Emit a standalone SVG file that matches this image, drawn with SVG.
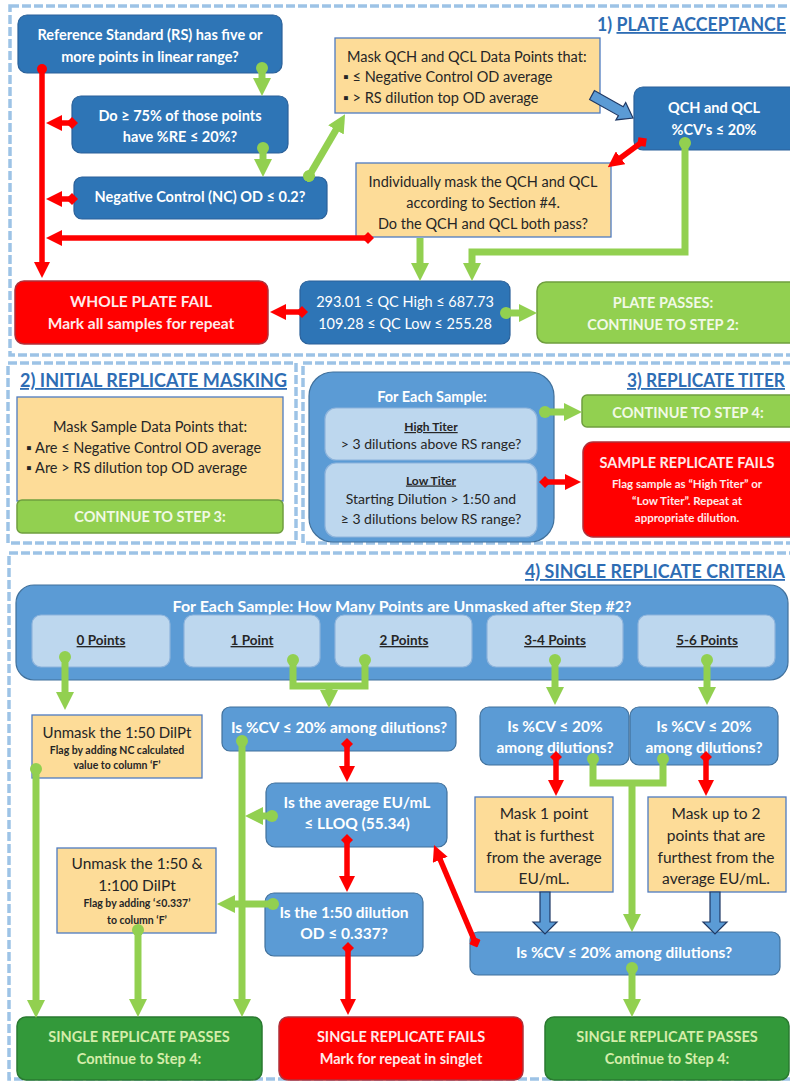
<svg xmlns="http://www.w3.org/2000/svg" width="790" height="1082" viewBox="0 0 790 1082">
<style>
text{font-family:Lato,"Liberation Sans",sans-serif}
.dash{fill:none;stroke:#9dc3e6;stroke-width:3.5;stroke-dasharray:9 3}
.db{fill:#2e75b6;stroke:#2a6099;stroke-width:1.2}
.mb{fill:#5b9bd5;stroke:#41719c;stroke-width:1.2}
.lb{fill:#bdd7ee;stroke:#8eb4dc;stroke-width:1.2}
.tan{fill:#fddc98;stroke:#4f7bc0;stroke-width:1.3}
.red{fill:#ff0000;stroke:#b0303a;stroke-width:1.5}
.lg{fill:#92d050;stroke:#6f9e3e;stroke-width:1.5}
.dg{fill:#33993a;stroke:#2a7a30;stroke-width:1.5}
.bl{fill:#5b9bd5;stroke:#1f3864;stroke-width:1.2}
.w{fill:#ffffff;font-weight:bold;font-size:14.5px;text-anchor:middle}
.k{fill:#262626;font-size:14.5px}
.kc{fill:#262626;font-size:14.5px;text-anchor:middle}
.ks{fill:#262626;font-size:10.5px;font-weight:bold;text-anchor:middle}
.rt{fill:#ffeaea;font-weight:bold;font-size:14.5px;text-anchor:middle}
.rs{fill:#ffeaea;font-weight:bold;font-size:11.5px;text-anchor:middle}
.gt{fill:#f1f9e6;font-weight:bold;font-size:14.5px;text-anchor:middle}
.dgt{fill:#d5edaa;font-weight:bold;font-size:14.5px;text-anchor:middle}
.pt{fill:#262626;font-weight:bold;font-size:13.5px;text-anchor:middle;text-decoration:underline}
.ttl{fill:#2e6db4;font-weight:bold;font-size:18px}
.g{fill:none;stroke:#92d050;stroke-width:7}
.r{fill:none;stroke:#ff0000;stroke-width:5.5}
</style>
<defs>
<marker id="gh" viewBox="0 0 18 18" refX="8" refY="9" markerWidth="18" markerHeight="18" markerUnits="userSpaceOnUse" orient="auto"><path d="M0,0 L18,9 L0,18 z" fill="#92d050"/></marker>
<marker id="gd" viewBox="0 0 12 12" refX="6" refY="6" markerWidth="12" markerHeight="12" markerUnits="userSpaceOnUse" orient="auto"><circle cx="6" cy="6" r="6" fill="#92d050"/></marker>
<marker id="rh" viewBox="0 0 16 16" refX="7" refY="8" markerWidth="16" markerHeight="16" markerUnits="userSpaceOnUse" orient="auto"><path d="M0,0 L16,8 L0,16 z" fill="#ff0000"/></marker>
<marker id="rd" viewBox="0 0 12 12" refX="6" refY="6" markerWidth="12" markerHeight="12" markerUnits="userSpaceOnUse" orient="auto"><path d="M0,6 L6,0 L12,6 L6,12 z" fill="#ff0000"/></marker>
<marker id="ro" viewBox="0 0 10 10" refX="5" refY="5" markerWidth="10" markerHeight="10" markerUnits="userSpaceOnUse" orient="auto"><circle cx="5" cy="5" r="5" fill="#ff0000"/></marker>
</defs>

<g id="section-borders">
<rect class="dash" x="10" y="6" width="800" height="349"/>
<rect class="dash" x="8" y="363" width="288" height="180"/>
<rect class="dash" x="303" y="363" width="510" height="180"/>
<rect class="dash" x="9" y="553" width="800" height="526"/>
</g>

<g id="titles">
<text class="ttl" x="597" y="31" textLength="189" lengthAdjust="spacingAndGlyphs">1) <tspan text-decoration="underline">PLATE ACCEPTANCE</tspan></text>
<text class="ttl" x="20" y="387" textLength="267" lengthAdjust="spacingAndGlyphs" text-decoration="underline">2) INITIAL REPLICATE MASKING</text>
<text class="ttl" x="627" y="387" textLength="158" lengthAdjust="spacingAndGlyphs" text-decoration="underline">3) REPLICATE TITER</text>
<text class="ttl" x="525" y="578" textLength="260" lengthAdjust="spacingAndGlyphs" text-decoration="underline">4) SINGLE REPLICATE CRITERIA</text>
</g>

<!-- Section 1 nodes -->
<g id="n-rs"><rect class="db" x="18" y="15" width="264" height="58" rx="9"/>
<text class="w" x="150" y="40">Reference Standard (RS) has five or</text><text class="w" x="150" y="61.5">more points in linear range?</text></g>
<g id="n-re"><rect class="db" x="72" y="96" width="216" height="57" rx="9"/>
<text class="w" x="180" y="121">Do ≥ 75% of those points</text><text class="w" x="180" y="142">have %RE ≤ 20%?</text></g>
<g id="n-nc"><rect class="db" x="74" y="177" width="253" height="42" rx="8"/>
<text class="w" x="200" y="202">Negative Control (NC) OD ≤ 0.2?</text></g>
<g id="n-maskqc"><rect class="tan" x="335" y="38" width="265" height="75"/>
<text class="k" x="347" y="61.5">Mask QCH and QCL Data Points that:</text>
<text class="k" x="343" y="82">▪ ≤ Negative Control OD average</text>
<text class="k" x="343" y="103">▪ &gt; RS dilution top OD average</text></g>
<g id="n-qccv"><rect class="db" x="634" y="87" width="170" height="63" rx="9"/>
<text class="w" x="714" y="113">QCH and QCL</text><text class="w" x="714" y="135">%CV's ≤ 20%</text></g>
<g id="n-indiv"><rect class="tan" x="356" y="163" width="255" height="74"/>
<text class="kc" x="483" y="187">Individually mask the QCH and QCL</text>
<text class="kc" x="483" y="207.5">according to Section #4.</text>
<text class="kc" x="483" y="228.5">Do the QCH and QCL both pass?</text></g>
<g id="n-wpf"><rect class="red" x="15" y="281" width="253" height="63" rx="9"/>
<text class="rt" x="141" y="307" style="font-size:15.5px">WHOLE PLATE FAIL</text><text class="rt" x="141" y="328.5" style="font-size:15.5px">Mark all samples for repeat</text></g>
<g id="n-qcr"><rect class="db" x="300" y="281" width="210" height="63" rx="9"/>
<text class="w" x="405" y="307" style="font-weight:normal;font-size:14.5px">293.01 ≤ QC High ≤ 687.73</text>
<text class="w" x="405" y="328.5" style="font-weight:normal;font-size:14.5px">109.28 ≤ QC Low ≤ 255.28</text></g>
<g id="n-pp"><rect class="lg" x="537" y="282" width="270" height="61" rx="9"/>
<text class="gt" x="663" y="308">PLATE PASSES:</text><text class="gt" x="663" y="330">CONTINUE TO STEP 2:</text></g>

<!-- Section 2 -->
<g id="n-masksample"><rect class="tan" x="17" y="397" width="266" height="104"/>
<text class="kc" x="150" y="432">Mask Sample Data Points that:</text>
<text class="k" x="26" y="453">▪ Are ≤ Negative Control OD average</text>
<text class="k" x="26" y="473">▪ Are &gt; RS dilution top OD average</text></g>
<g id="n-cont3"><rect class="lg" x="17" y="500" width="266" height="33" rx="5"/>
<text class="gt" x="150" y="522">CONTINUE TO STEP 3:</text></g>

<!-- Section 3 -->
<g id="n-foreach"><rect class="mb" x="309" y="372" width="245" height="170" rx="24"/>
<text class="w" x="432" y="402">For Each Sample:</text></g>
<g id="n-high"><rect class="lb" x="325" y="408" width="212" height="52" rx="11"/>
<text class="pt" x="431" y="431" style="font-size:12px">High Titer</text>
<text class="kc" x="431" y="449" style="font-size:14px">&gt; 3 dilutions above RS range?</text></g>
<g id="n-low"><rect class="lb" x="325" y="463" width="212" height="74" rx="11"/>
<text class="pt" x="431" y="484.5" style="font-size:12px">Low Titer</text>
<text class="kc" x="431" y="503.5" style="font-size:14px">Starting Dilution &gt; 1:50 and</text>
<text class="kc" x="431" y="523.5" style="font-size:14px">≥ 3 dilutions below RS range?</text></g>
<g id="n-cont4"><rect class="lg" x="582" y="395" width="225" height="32" rx="5"/>
<text class="gt" x="688" y="417.5">CONTINUE TO STEP 4:</text></g>
<g id="n-srf3"><rect class="red" x="583" y="442" width="225" height="95" rx="10"/>
<text class="rt" x="687" y="468">SAMPLE REPLICATE FAILS</text>
<text class="rs" x="687" y="488">Flag sample as “High Titer” or</text>
<text class="rs" x="687" y="505">“Low Titer”.  Repeat at</text>
<text class="rs" x="687" y="522">appropriate dilution.</text></g>

<!-- Section 4 -->
<g id="n-points"><rect class="mb" x="16" y="585" width="772" height="95" rx="18"/>
<text class="w" x="402" y="612" style="font-size:16px">For Each Sample: How Many Points are Unmasked after Step #2?</text></g>
<g id="n-p0"><rect class="lb" x="32" y="615" width="138" height="52" rx="9"/><text class="pt" x="101" y="645">0 Points</text></g>
<g id="n-p1"><rect class="lb" x="184" y="615" width="136" height="52" rx="9"/><text class="pt" x="252" y="645">1 Point</text></g>
<g id="n-p2"><rect class="lb" x="335" y="615" width="137" height="52" rx="9"/><text class="pt" x="404" y="645">2 Points</text></g>
<g id="n-p34"><rect class="lb" x="487" y="615" width="136" height="52" rx="9"/><text class="pt" x="555" y="645">3-4 Points</text></g>
<g id="n-p56"><rect class="lb" x="638" y="615" width="137" height="52" rx="9"/><text class="pt" x="707" y="645">5-6 Points</text></g>

<g id="n-unmask50"><rect class="tan" x="32" y="715" width="170" height="63"/>
<text class="kc" x="117" y="737.5" style="font-size:15px">Unmask the 1:50 DilPt</text>
<text class="ks" x="117" y="754">Flag by adding NC calculated</text>
<text class="ks" x="117" y="769">value to column ‘F’</text></g>
<g id="n-cv12"><rect class="mb" x="222" y="707" width="234" height="44" rx="8"/>
<text class="w" x="339" y="732.5" style="font-size:15.5px">Is %CV ≤ 20% among dilutions?</text></g>
<g id="n-avg"><rect class="mb" x="266" y="783" width="181" height="64" rx="9"/>
<text class="w" x="357" y="808" style="font-size:15.5px">Is the average EU/mL</text><text class="w" x="357" y="828.5" style="font-size:15.5px">≤ LLOQ (55.34)</text></g>
<g id="n-unmask100"><rect class="tan" x="57" y="848" width="159" height="85"/>
<text class="kc" x="137" y="868.5" style="font-size:15.5px">Unmask the 1:50 &amp;</text>
<text class="kc" x="137" y="890.5" style="font-size:15.5px">1:100 DilPt</text>
<text class="ks" x="137" y="907">Flag by adding ‘≤0.337’</text>
<text class="ks" x="137" y="924">to column ‘F’</text></g>
<g id="n-od"><rect class="mb" x="265" y="893" width="158" height="63" rx="9"/>
<text class="w" x="344" y="918" style="font-size:15.5px">Is the 1:50 dilution</text><text class="w" x="344" y="938.5" style="font-size:15.5px">OD ≤ 0.337?</text></g>
<g id="n-cv34"><rect class="mb" x="480" y="707" width="149" height="58" rx="9"/>
<text class="w" x="555" y="732" style="font-size:15.5px">Is %CV ≤ 20%</text><text class="w" x="555" y="753" style="font-size:15.5px">among dilutions?</text></g>
<g id="n-cv56"><rect class="mb" x="630" y="707" width="148" height="58" rx="9"/>
<text class="w" x="704" y="732" style="font-size:15.5px">Is %CV ≤ 20%</text><text class="w" x="704" y="753" style="font-size:15.5px">among dilutions?</text></g>
<g id="n-mask1"><rect class="tan" x="475" y="797" width="138" height="95"/>
<text class="kc" x="544" y="818.5" style="font-size:15.5px">Mask 1 point</text>
<text class="kc" x="544" y="840.5" style="font-size:15.5px">that is furthest</text>
<text class="kc" x="544" y="862.5" style="font-size:15.5px">from the average</text>
<text class="kc" x="544" y="883.5" style="font-size:15.5px">EU/mL.</text></g>
<g id="n-mask2"><rect class="tan" x="648" y="797" width="138" height="95"/>
<text class="kc" x="716" y="818.5" style="font-size:15.5px">Mask up to 2</text>
<text class="kc" x="716" y="840.5" style="font-size:15.5px">points that are</text>
<text class="kc" x="716" y="862.5" style="font-size:15.5px">furthest from the</text>
<text class="kc" x="716" y="883.5" style="font-size:15.5px">average EU/mL.</text></g>
<g id="n-cvfinal"><rect class="mb" x="470" y="932" width="310" height="43" rx="8"/>
<text class="w" x="624" y="957.5" style="font-size:15.5px">Is %CV ≤ 20% among dilutions?</text></g>
<g id="n-srp1"><rect class="dg" x="17" y="1017" width="245" height="63" rx="9"/>
<text class="dgt" x="139" y="1042">SINGLE REPLICATE PASSES</text><text class="dgt" x="139" y="1064">Continue to Step 4:</text></g>
<g id="n-srf"><rect class="red" x="279" y="1017" width="244" height="63" rx="9"/>
<text class="rt" x="401" y="1042">SINGLE REPLICATE FAILS</text><text class="rt" x="401" y="1064">Mark for repeat in singlet</text></g>
<g id="n-srp2"><rect class="dg" x="545" y="1017" width="244" height="63" rx="9"/>
<text class="dgt" x="667" y="1042">SINGLE REPLICATE PASSES</text><text class="dgt" x="667" y="1064">Continue to Step 4:</text></g>

<g id="connectors">
<!-- green -->
<path class="g" d="M262,68 L262,86" marker-start="url(#gd)" marker-end="url(#gh)"/>
<path class="g" d="M263,148 L263,167" marker-start="url(#gd)" marker-end="url(#gh)"/>
<path class="g" d="M309,176 L340,123" marker-start="url(#gd)" marker-end="url(#gh)"/>
<path class="g" d="M685,143 L685,252 L472,252 L472,271" marker-start="url(#gd)" marker-end="url(#gh)"/>
<path class="g" d="M420,238 L420,271" marker-end="url(#gh)"/>
<path class="g" d="M506,313 L527,313" marker-start="url(#gd)" marker-end="url(#gh)"/>
<path class="g" d="M545,412 L572,412" marker-start="url(#gd)" marker-end="url(#gh)"/>
<path class="g" d="M65,657 L65,700" marker-start="url(#gd)" marker-end="url(#gh)"/>
<path class="g" d="M293,660 L293,686 L365,686 L365,660" marker-start="url(#gd)" marker-end="url(#gd)"/>
<path class="g" d="M329,686 L329,698" marker-end="url(#gh)"/>
<path class="g" d="M555,660 L555,695" marker-start="url(#gd)" marker-end="url(#gh)"/>
<path class="g" d="M707,660 L707,695" marker-start="url(#gd)" marker-end="url(#gh)"/>
<path class="g" d="M593,759 L593,783 L663,783 L663,759" marker-start="url(#gd)" marker-end="url(#gd)"/>
<path class="g" d="M632,783 L632,922" marker-end="url(#gh)"/>
<path class="g" d="M632,968 L632,1007" marker-start="url(#gd)" marker-end="url(#gh)"/>
<path class="g" d="M242,741 L242,1007" marker-start="url(#gd)" marker-end="url(#gh)"/>
<path class="g" d="M272,816 L255,816" marker-start="url(#gd)" marker-end="url(#gh)"/>
<path class="g" d="M273,904 L227,904" marker-start="url(#gd)" marker-end="url(#gh)"/>
<path class="g" d="M36,769 L36,1008" marker-start="url(#gd)" marker-end="url(#gh)"/>
<path class="g" d="M138,930 L138,1007" marker-start="url(#gd)" marker-end="url(#gh)"/>
<!-- red -->
<path class="r" d="M42,69 L42,269" marker-start="url(#ro)" marker-end="url(#rh)"/>
<path class="r" d="M72,123 L55,123" marker-start="url(#rd)" marker-end="url(#rh)"/>
<path class="r" d="M72,199 L55,199" marker-start="url(#rd)" marker-end="url(#rh)"/>
<path class="r" d="M368,238 L55,238" marker-start="url(#rd)" marker-end="url(#rh)"/>
<path class="r" d="M642,142 L615,162" marker-start="url(#rd)" marker-end="url(#rh)"/>
<path class="r" d="M302,312 L279,312" marker-start="url(#rd)" marker-end="url(#rh)"/>
<path class="r" d="M545,482 L572,482" marker-start="url(#rd)" marker-end="url(#rh)"/>
<path class="r" d="M347,744 L347,773" marker-start="url(#rd)" marker-end="url(#rh)"/>
<path class="r" d="M347,840 L347,883" marker-start="url(#rd)" marker-end="url(#rh)"/>
<path class="r" d="M348,948 L348,1006" marker-start="url(#rd)" marker-end="url(#rh)"/>
<path class="r" d="M556,757 L556,787" marker-start="url(#rd)" marker-end="url(#rh)"/>
<path class="r" d="M706,757 L706,787" marker-start="url(#rd)" marker-end="url(#rh)"/>
<path class="r" d="M475,942 L437.5,853.3" marker-start="url(#rd)" marker-end="url(#rh)"/>
<!-- blue block arrows -->
<polygon class="bl" points="589.6,99.4 618.4,115.6 615.9,119.9 633,118 625.7,102.5 623.2,106.8 594.4,90.6"/>
<polygon class="bl" points="540,892 540,922 533,922 545,934 557,922 550,922 550,892"/>
<polygon class="bl" points="710,892 710,922 703,922 715,934 727,922 720,922 720,892"/>
</g>
</svg>
